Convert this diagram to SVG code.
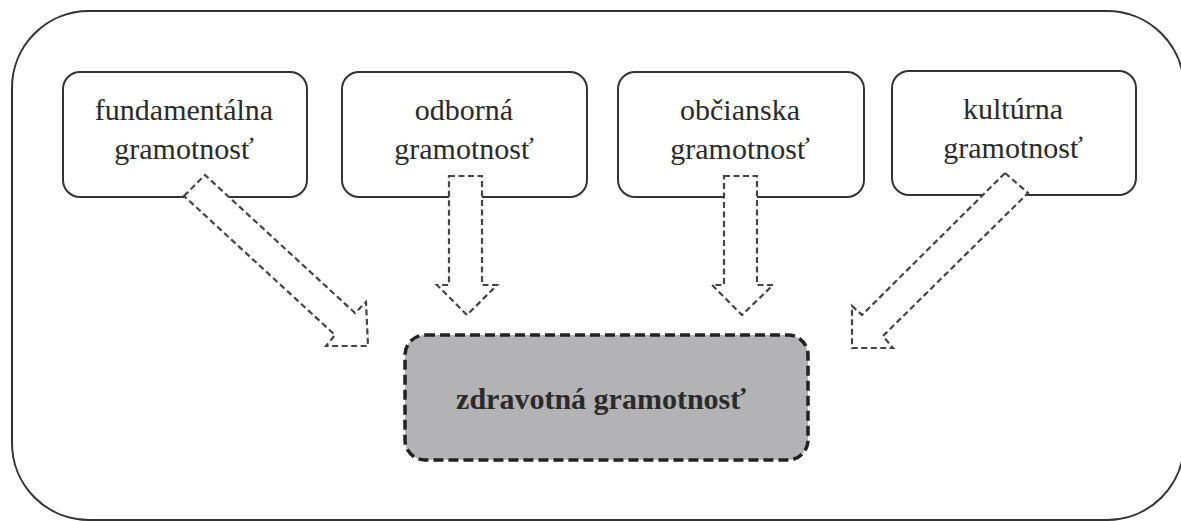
<svg xmlns="http://www.w3.org/2000/svg" width="1181" height="521" viewBox="0 0 1181 521">
<style>
.node{fill:#fff;stroke:#333;stroke-width:2}
.lbl{font-family:"Liberation Serif","Times New Roman",serif;font-size:30px;fill:#2a2a2a;text-anchor:middle}
.arrow{fill:#fff;stroke:#444;stroke-width:2.2;stroke-dasharray:6 3.5;stroke-linejoin:miter}
</style>
<rect width="1181" height="521" fill="#fff"/>
<rect id="frame" x="12" y="11" width="1172" height="509" rx="77" ry="77" fill="none" stroke="#333" stroke-width="2"/>
<g id="n1"><rect class="node" x="63" y="72" width="244" height="125" rx="17"/><text class="lbl" x="184" y="120">fundamentálna</text><text class="lbl" x="184" y="159">gramotnosť</text></g>
<g id="n2"><rect class="node" x="342" y="72" width="245" height="125" rx="17"/><text class="lbl" x="464" y="120">odborná</text><text class="lbl" x="464" y="159">gramotnosť</text></g>
<g id="n3"><rect class="node" x="618" y="72" width="246" height="125" rx="17"/><text class="lbl" x="740" y="120">občianska</text><text class="lbl" x="740" y="159">gramotnosť</text></g>
<g id="n4"><rect class="node" x="892" y="71" width="244" height="124" rx="17"/><text class="lbl" x="1013" y="119">kultúrna</text><text class="lbl" x="1013" y="158">gramotnosť</text></g>
<g id="center"><rect x="405" y="335" width="403" height="125" rx="20" fill="#b3b3b5" stroke="#222" stroke-width="3.5" stroke-dasharray="10 5"/><text class="lbl" x="601" y="409" font-weight="bold">zdravotná gramotnosť</text></g>
<g id="connectors">
<polygon class="arrow" points="184,196 205,175 355,313 366,302 368,346 326,346 335,335"/>
<polygon class="arrow" points="449,176 482,176 482,285 497,285 467,315 437,285 449,285"/>
<polygon class="arrow" points="724,176 757,176 757,285 773,285 742,315 712,285 724,285"/>
<polygon class="arrow" points="1005,173 1028,193 883,336 893,348 852,348 852,306 862,315"/>
</g>
</svg>
